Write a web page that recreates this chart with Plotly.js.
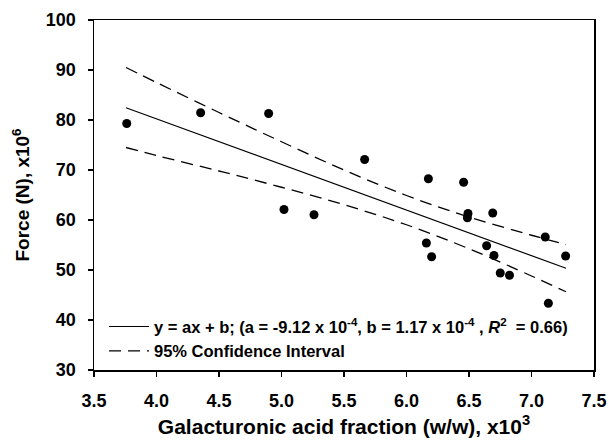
<!DOCTYPE html>
<html>
<head>
<meta charset="utf-8">
<script src="https://cdn.plot.ly/plotly-3.0.1.min.js"></script>
<style>html,body{margin:0;padding:0;background:#fff;}#chart{width:609px;height:447px;}</style>
</head>
<body>
<div id="chart"></div>
<script>
// Measured data points (x: galacturonic acid fraction x10^3, y: force x10^6)
const galX = [3.762, 4.353, 4.897, 5.020, 5.260, 5.665, 6.159, 6.175, 6.201, 6.457,
              6.492, 6.487, 6.641, 6.690, 6.700, 6.750, 6.824, 7.110, 7.135, 7.273];
const forceY = [79.3, 81.45, 81.3, 62.1, 61.05, 72.1, 55.4, 68.25, 52.65, 67.55,
                61.3, 60.45, 54.85, 61.4, 52.9, 49.4, 48.95, 56.6, 43.35, 52.8];

// Regression line end points
const fitX = [3.756, 7.276];
const fitY = [82.45, 50.35];

// 95% confidence band
const ciX     = [3.756, 4.0, 4.5, 5.0, 5.5, 6.0, 6.5, 7.0, 7.276];
const ciUpper = [90.5, 87.5, 81.5, 75.65, 70.0, 64.9, 60.6, 56.95, 55.1];
const ciLower = [74.5, 72.9, 69.8, 66.55, 63.05, 59.05, 54.25, 48.8, 45.65];

const xTicks = [3.5, 4.0, 4.5, 5.0, 5.5, 6.0, 6.5, 7.0, 7.5];
const xTickText = ['3.5', '4.0', '4.5', '5.0', '5.5', '6.0', '6.5', '7.0', '7.5'];
const yTicks = [30, 40, 50, 60, 70, 80, 90, 100];

const FONT = 'Liberation Sans, Arial, Helvetica, sans-serif';

const traces = [
  {
    x: fitX, y: fitY, mode: 'lines', type: 'scatter',
    name: 'y = ax + b; (a = -9.12 x 10<sup>-4</sup>, b = 1.17 x 10<sup>-4</sup> , <i>R</i><sup>2</sup>  = 0.66)',
    line: {color: '#000', width: 1.2},
    showlegend: true
  },
  {
    x: ciX, y: ciUpper, mode: 'lines', type: 'scatter',
    name: '95% Confidence Interval',
    line: {color: '#000', width: 1.3, dash: '12px,7px', shape: 'spline'},
    showlegend: true
  },
  {
    x: ciX, y: ciLower, mode: 'lines', type: 'scatter',
    name: '95% Confidence Interval lower',
    line: {color: '#000', width: 1.3, dash: '12px,7px', shape: 'spline'},
    showlegend: false
  },
  {
    x: galX, y: forceY, mode: 'markers', type: 'scatter',
    name: 'data',
    marker: {color: '#000', size: 9, symbol: 'circle'},
    showlegend: false
  }
];

const layout = {
  width: 609, height: 447,
  margin: {l: 94, r: 15, t: 20, b: 77},
  paper_bgcolor: '#fff', plot_bgcolor: '#fff',
  font: {family: FONT, color: '#000', size: 18, weight: 'bold'},
  showlegend: true,
  legend: {
    x: 0.02, y: 0.005, xanchor: 'left', yanchor: 'bottom',
    bgcolor: 'rgba(0,0,0,0)', borderwidth: 0,
    font: {family: FONT, size: 16.5, color: '#000', weight: 'bold'},
    tracegroupgap: 0, itemwidth: 40
  },
  xaxis: {
    range: [3.5, 7.5],
    tickvals: xTicks, ticktext: xTickText,
    ticks: 'outside', ticklen: 5, tickwidth: 1.2, tickcolor: '#000',
    showline: true, linecolor: '#000', linewidth: 1.5, mirror: true,
    showgrid: false, zeroline: false,
    tickfont: {family: FONT, size: 18, color: '#000', weight: 'bold'},
    ticklabelstandoff: 9,
    title: {text: 'Galacturonic acid fraction (w/w), x10<sup>3</sup>',
            font: {family: FONT, size: 21, color: '#000', weight: 'bold'}, standoff: 9},
    automargin: false
  },
  yaxis: {
    range: [30, 100],
    tickvals: yTicks,
    ticks: 'outside', ticklen: 5, tickwidth: 1.2, tickcolor: '#000',
    showline: true, linecolor: '#000', linewidth: 1.5, mirror: true,
    showgrid: false, zeroline: false,
    tickfont: {family: FONT, size: 18, color: '#000', weight: 'bold'},
    ticklabelstandoff: 8,
    title: {text: 'Force (N), x10<sup>6</sup>',
            font: {family: FONT, size: 19, color: '#000', weight: 'bold'}, standoff: 11},
    automargin: false
  }
};

Plotly.newPlot('chart', traces, layout, {displayModeBar: false, staticPlot: true});
</script>
</body>
</html>
